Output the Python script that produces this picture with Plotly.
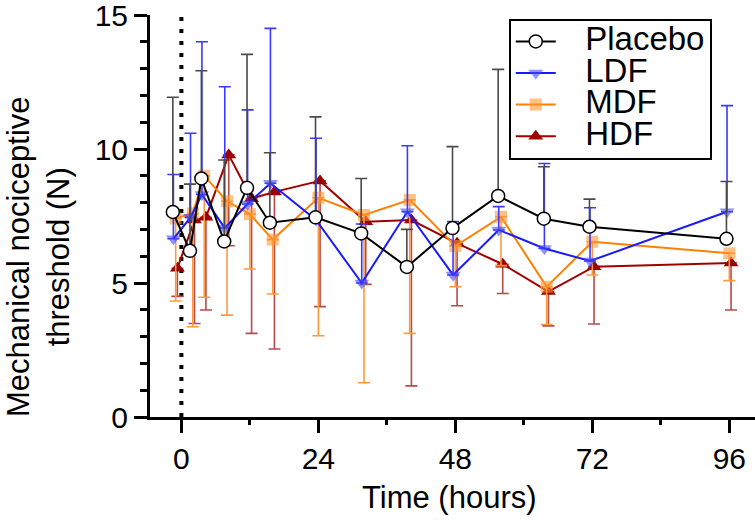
import plotly.graph_objects as go

# ---- data ----
times = [-1, 2, 4, 8, 12, 16, 24, 32, 40, 48, 56, 64, 72, 96]

placebo_mean = [7.65, 6.2, 8.9, 6.55, 8.55, 7.25, 7.45, 6.85, 5.6, 7.05, 8.25, 7.4, 7.1, 6.65]
placebo_upper = [11.93, 8.69, 12.92, 9.59, 13.53, 9.86, 11.2, 8.9, 7.0, 10.09, 12.97, 9.34, 8.13, 8.79]

ldf_mean = [6.65, 7.45, 8.3, 7.05, 7.95, 8.72, 7.35, 5.0, 7.66, 5.3, 6.98, 6.29, 5.82, 7.66]
ldf_upper = [9.05, 10.59, 14.0, 12.32, 11.46, 14.5, 10.4, 7.2, 10.12, 7.29, 7.85, 9.46, 7.81, 11.62]

mdf_mean = [7.41, 7.6, 9.0, 8.05, 7.57, 6.62, 8.18, 7.54, 8.1, 6.38, 7.47, 4.86, 6.54, 6.11]
mdf_lower = [4.33, 3.37, 4.47, 3.8, 5.52, 4.59, 3.03, 1.28, 3.12, 4.86, 5.65, 3.45, 5.3, 5.09]

hdf_mean = [5.55, 7.35, 7.45, 9.78, 8.15, 8.4, 8.81, 7.29, 7.35, 6.48, 5.7, 4.68, 5.61, 5.75]
hdf_lower = [4.5, 3.49, 3.99, 6.39, 3.12, 2.54, 4.12, 4.95, 1.16, 4.15, 4.61, 3.4, 3.47, 3.99]

series_names = ["Placebo", "LDF", "MDF", "HDF"]
x_ticks = [0, 24, 48, 72, 96]
x_minor_ticks = [12, 36, 60, 84]
y_tick_step = 5
y_minor_step = 1

# small horizontal nudge per series (hours), as in the original figure
nudge = {"Placebo": -0.5, "LDF": -0.4, "MDF": 0.0, "HDF": 0.3}

FONT = "Liberation Sans, Arial, sans-serif"
NB = "\u00a0"
X_RANGE = [-5.5, 100.5]


def xs(name):
    return [t + nudge[name] for t in times]


def legend_label(name):
    return NB * 4 + '<span style="font-size:33px">' + name + "</span>"


fig = go.Figure()

# HDF (drawn first, lowest)
fig.add_trace(go.Scatter(
    x=xs("HDF"), y=hdf_mean, name=legend_label("HDF"), mode="lines+markers",
    line=dict(color="#a00000", width=2),
    marker=dict(symbol="triangle-up", size=13, color="#9b0000"),
    error_y=dict(type="data", symmetric=False,
                 array=[0] * len(times),
                 arrayminus=[m - l for m, l in zip(hdf_mean, hdf_lower)],
                 color="#b84a4a", thickness=1.6, width=6),
))
# MDF
fig.add_trace(go.Scatter(
    x=xs("MDF"), y=mdf_mean, name=legend_label("MDF"), mode="lines+markers",
    line=dict(color="#ff8000", width=2),
    marker=dict(symbol="square", size=12, color="rgba(255,150,50,0.6)"),
    error_y=dict(type="data", symmetric=False,
                 array=[0] * len(times),
                 arrayminus=[m - l for m, l in zip(mdf_mean, mdf_lower)],
                 color="#ff9a3c", thickness=1.6, width=6),
))
# LDF
fig.add_trace(go.Scatter(
    x=xs("LDF"), y=ldf_mean, name=legend_label("LDF"), mode="lines+markers",
    line=dict(color="#1a1aff", width=2),
    marker=dict(symbol="triangle-down", size=13, color="rgba(70,70,255,0.6)"),
    error_y=dict(type="data", symmetric=False,
                 array=[u - m for u, m in zip(ldf_upper, ldf_mean)],
                 arrayminus=[0] * len(times),
                 color="#3a3aff", thickness=1.6, width=6),
))
# Placebo (top)
fig.add_trace(go.Scatter(
    x=xs("Placebo"), y=placebo_mean, name=legend_label("Placebo"), mode="lines+markers",
    line=dict(color="black", width=2),
    marker=dict(symbol="circle", size=13, color="white",
                line=dict(color="black", width=1.5)),
    error_y=dict(type="data", symmetric=False,
                 array=[u - m for u, m in zip(placebo_upper, placebo_mean)],
                 arrayminus=[0] * len(times),
                 color="#4a4a4a", thickness=1.6, width=6),
))

# dotted line at time 0
fig.add_shape(type="line", x0=0, x1=0, y0=0, y1=15, xref="x", yref="y",
              line=dict(color="black", width=4, dash="4px,8px"), layer="below")

fig.update_layout(
    width=755, height=528,
    margin=dict(l=150, r=0, t=15, b=111),
    paper_bgcolor="white", plot_bgcolor="white",
    font=dict(family=FONT, color="black", size=30),
    showlegend=True,
    legend=dict(
        x=0.593, y=0.991, xanchor="left", yanchor="top",
        bgcolor="white", bordercolor="black", borderwidth=2,
        font=dict(family=FONT, size=22, color="black"),
        traceorder="reversed", itemwidth=40, tracegroupgap=0,
    ),
    xaxis=dict(
        range=X_RANGE, tickvals=x_ticks, ticktext=[str(v) for v in x_ticks],
        showgrid=False, zeroline=False, showline=True, linecolor="black", linewidth=3,
        ticks="outside", ticklen=13, tickwidth=3, tickcolor="black",
        tickfont=dict(size=30, family=FONT), automargin=False,
        ticklabeloverflow="allow",
    ),
    # second x axis only carries the minor ticks
    xaxis2=dict(
        range=X_RANGE, overlaying="x", anchor="y", side="bottom",
        tickvals=x_minor_ticks, ticktext=[""] * len(x_minor_ticks),
        showgrid=False, zeroline=False, showline=False,
        ticks="outside", ticklen=7, tickwidth=3, tickcolor="black",
        automargin=False,
    ),
    yaxis=dict(
        range=[0, 15], tickmode="linear", tick0=0, dtick=y_tick_step,
        showgrid=False, zeroline=False, showline=True, linecolor="black", linewidth=3,
        ticks="outside", ticklen=13, tickwidth=3, tickcolor="black",
        tickfont=dict(size=30, family=FONT), automargin=False,
        ticklabeloverflow="allow",
        minor=dict(tickmode="linear", tick0=0, dtick=y_minor_step, ticks="outside",
                   ticklen=7, tickwidth=3, tickcolor="black", showgrid=False),
    ),
    annotations=[
        dict(text="Time (hours)", xref="paper", yref="paper", x=0.495, y=0,
             xanchor="center", yanchor="middle", yshift=-80, showarrow=False,
             font=dict(size=31, family=FONT)),
        dict(text="Mechanical nociceptive<br>threshold (N)", xref="paper", yref="paper",
             x=0, y=0.5, xanchor="center", yanchor="middle", xshift=-112, yshift=-41,
             textangle=-90, showarrow=False, font=dict(size=31, family=FONT)),
    ],
)

# invisible helper so the minor-tick axis is rendered
fig.add_trace(go.Scatter(x=[X_RANGE[0]], y=[None], xaxis="x2", yaxis="y",
                         mode="markers", showlegend=False, hoverinfo="skip"))

fig.write_html("out.html", config={"displayModeBar": False},
               post_script="document.body.style.margin='0px';")
